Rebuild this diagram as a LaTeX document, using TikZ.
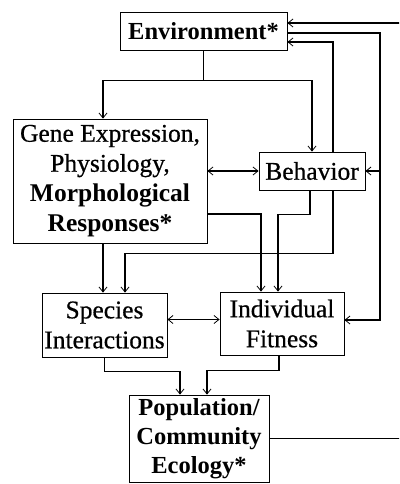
\documentclass[tikz,border=0pt]{standalone}
\usepackage{fontspec}
\setmainfont{Liberation Serif}
\newfontfamily\regfont{Liberation Serif}[FakeBold=0.6]
\usetikzlibrary{arrows.meta}
\begin{document}
\begin{tikzpicture}[x=1pt,y=-1pt,
  box/.style={draw, line width=0.8pt, inner sep=0pt, align=center, font=\fontsize{25.5}{30}\selectfont\regfont},
  bbox/.style={box, font=\fontsize{24.5}{29}\selectfont\bfseries},
  arr/.style={line width=1.1pt, -{Straight Barb[length=5pt,width=8pt,line width=0.8pt]}},
  darr/.style={line width=1.1pt, {Straight Barb[length=5pt,width=8pt,line width=0.8pt]}-{Straight Barb[length=5pt,width=8pt,line width=0.8pt]}}]
\useasboundingbox (0,0) rectangle (399,484);
\clip (0,0) rectangle (399,484);
\fill[white] (0,0) rectangle (399,484);
\node[bbox, minimum width=167pt, minimum height=38pt] (env) at (203.5,31) {Environment*};
\node[box, minimum width=194pt, minimum height=124pt] (gene) at (110,181) {Gene Expression,\\Physiology,\\{\rmfamily\bfseries Morphological}\\{\rmfamily\bfseries Responses*}};
\node[box, minimum width=106pt, minimum height=38pt] (beh) at (312,171) {Behavior};
\node[box, minimum width=125pt, minimum height=64pt] (spec) at (104.5,325) {Species\\Interactions};
\node[box, minimum width=124pt, minimum height=63pt] (fit) at (282,323.5) {Individual\\Fitness};
\node[bbox, minimum width=140pt, minimum height=87pt] (pop) at (199,438.5) {Population/\\Community\\Ecology*};
\coordinate (rc) at (380,320);
\coordinate (far) at (430,23);
% environment to gene and behavior
\draw[arr] (env.south) -- ++(0,30) -| ([xshift=-7pt]gene.north);
\draw[arr] (env.south) -- ++(0,30) -| (beh.north);
% gene <-> behavior
\draw[darr] (beh.west -| gene.east) -- (beh.west);
% environment down the right side
\draw[arr] ([yshift=-2pt]env.east) -| (rc) -- (rc -| fit.east);
\draw[arr] (beh.east -| rc) -- (beh.east);
% population back to environment
\draw[arr] (pop.east) -| (far) -- ([yshift=8pt]env.east);
% behavior to environment
\draw[arr] ([xshift=21pt]beh.north) |- ([yshift=-11pt]env.east);
% behavior to species
\draw[arr] ([xshift=21pt]beh.south) -- ++(0,63) -| ([xshift=20.5pt]spec.north);
% gene to species
\draw[arr] ([xshift=-7pt]gene.south) -- ([xshift=-7pt]gene.south |- spec.north);
% gene to fitness
\draw[arr] ([yshift=-33pt]gene.east) -| ([xshift=-21pt]fit.north);
% behavior to fitness
\draw[arr] ([xshift=-2pt]beh.south) -- ++(0,24) -| ([xshift=-4pt]fit.north);
% species <-> fitness
\draw[darr] ([yshift=4pt]spec.east |- fit.west) -- ([yshift=4pt]fit.west);
% to population
\draw[arr] (spec.south) -- ++(0,14) -| ([xshift=-19pt]pop.north);
\draw[arr] ([xshift=-3pt]fit.south) -- ++(0,15) -| ([xshift=8pt]pop.north);
\end{tikzpicture}
\end{document}
